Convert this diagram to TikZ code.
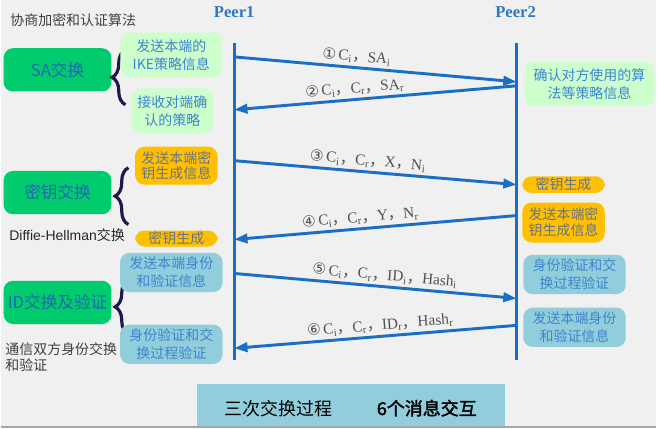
\documentclass[tikz,border=0pt]{standalone}
\usepackage{fontspec}
\setmainfont{Liberation Serif}
\newfontfamily\cjk[AutoFakeBold=2]{Noto Sans CJK SC}
\newfontfamily\arial{Liberation Sans}
\newfontfamily\dejavu{DejaVu Sans}
\usepackage{tikz}
\usetikzlibrary{arrows.meta,positioning,backgrounds,calc,decorations.pathreplacing}
\definecolor{bgray}{HTML}{F0F0F0}
\definecolor{lifeblue}{HTML}{1A6FC4}
\definecolor{peerblue}{HTML}{2E78C4}
\definecolor{phasegreen}{HTML}{00CC6E}
\definecolor{phasetext}{HTML}{2166B0}
\definecolor{palegreen}{HTML}{CCFFCC}
\definecolor{keyorange}{HTML}{FFC000}
\definecolor{idblue}{HTML}{92CDDC}
\definecolor{stepblue}{HTML}{3D85CC}
\definecolor{keytext}{HTML}{66728E}
\definecolor{bracenavy}{HTML}{1C1C4C}
\definecolor{msggray}{HTML}{505050}
\definecolor{notegray}{HTML}{404040}
\newcommand{\cma}{{\cjk ，}}
\newcommand{\sbs}[1]{\textsubscript{#1}}
\newcommand{\num}[1]{{\dejavu #1}\,}

\begin{document}
\begin{tikzpicture}[x=0.75pt,y=-0.75pt,
   phase/.style={fill=phasegreen, rounded corners=7pt, text=phasetext,
     font=\cjk\fontsize{12.5}{15}\selectfont, minimum width=81pt, minimum height=32.5pt, inner sep=1pt},
   stepbox/.style={rounded corners=7pt, align=center, inner sep=1pt, font=\cjk\fontsize{10.5}{13.5}\selectfont},
   sagreen/.style={stepbox, fill=palegreen, text=stepblue},
   keybox/.style={stepbox, fill=keyorange, text=keytext, font=\cjk\fontsize{10.5}{12}\selectfont, minimum width=62pt},
   idbox/.style={stepbox, fill=idblue, text=stepblue, minimum width=77pt, minimum height=29.5pt},
   peer/.style={text=peerblue, font=\bfseries\fontsize{12.5}{15}\selectfont},
   note/.style={text=notegray, font=\cjk\fontsize{10.5}{12}\selectfont},
   life/.style={lifeblue, line width=2.2pt},
   msg/.style={-{Triangle[length=10pt,width=7pt]}, lifeblue, line width=2.2pt},
   lbl/.style={sloped, above, text=msggray, font=\fontsize{11.5}{13}\selectfont, inner sep=2pt},
   curly/.style={decorate, decoration={brace, amplitude=10pt}, bracenavy, line width=2.4pt}]
  \fill[bgray] (0,0) rectangle (657,429);
  \draw[gray!70, line width=1pt] (0,428) -- (657,428);
  \useasboundingbox (0,0) rectangle (657,429);

  \node[note, anchor=west] (title) at (5,20) {协商加密和认证算法};
  \node[peer] (peer1) at (234,12) {Peer1};
  \node[peer] (peer2) at (516,12) {Peer2};

  % lifelines
  \coordinate (p1top) at (234,43);
  \coordinate (p1bot) at (234,361);
  \coordinate (p2top) at (517,43);
  \coordinate (p2bot) at (517,361);
  \draw[life] (p1top) -- (p1bot);
  \draw[life] (p2top) -- (p2bot);

  % SA
  \node[phase] (sa) at (57,70) {SA交换};
  \draw[curly] (125,105) -- (125,50);
  \node[sagreen, minimum width=76.5pt, minimum height=33.5pt] (sasend) at (171,55) {发送本端的\\IKE策略信息};
  \node[sagreen, minimum width=61pt, minimum height=33.5pt] (sarecv) at (172,111) {接收对端确\\认的策略};
  \node[sagreen, minimum width=97.5pt, minimum height=33pt] (saconf) at (590,84) {确认对方使用的算\\法等策略信息};

  % key exchange
  \node[phase] (kx) at (57,193) {密钥交换};
  \draw[curly] (128,225) -- (128,168);
  \node[keybox, minimum height=28.5pt] (kxsend) at (176,166) {发送本端密\\钥生成信息};
  \node[keybox, minimum height=12pt] (kxgen) at (176,239) {密钥生成};
  \node[keybox, minimum height=12.5pt] (kxgen2) at (564,185) {密钥生成};
  \node[keybox, minimum height=30pt] (kxsend2) at (564,223) {发送本端密\\钥生成信息};
  \node[anchor=west, text=black!85, font=\cjk\fontsize{10.5}{12}\selectfont] (dh) at (4,236) {{\arial Diffie-Hellman}交换};

  % ID
  \node[phase] (idx) at (57,303) {ID交换及验证};
  \draw[curly] (128,335) -- (128,280);
  \node[idbox] (idsend) at (171,273) {发送本端身份\\和验证信息};
  \node[idbox] (idver) at (171,345) {身份验证和交\\换过程验证};
  \node[idbox] (idver2) at (575,275) {身份验证和交\\换过程验证};
  \node[idbox] (idsend2) at (575,328) {发送本端身份\\和验证信息};
  \node[note, anchor=west, align=left] (idnote) at (0,358) {通信双方身份交换\\和验证};

  % messages
  \coordinate (m1s) at (234,57);  \coordinate (m1e) at (517,82);
  \coordinate (m2s) at (517,86);  \coordinate (m2e) at (234,110);
  \coordinate (m3s) at (234,161); \coordinate (m3e) at (517,185);
  \coordinate (m4s) at (517,216); \coordinate (m4e) at (234,240);
  \coordinate (m5s) at (234,274); \coordinate (m5e) at (517,299);
  \coordinate (m6s) at (517,326); \coordinate (m6e) at (234,349);
  \path (m1s) edge[msg] node[lbl, pos=.43] {\num{①}C\sbs{i}\cma SA\sbs{i}} (m1e);
  \path (m2s) edge[msg] node[lbl, pos=.57] {\num{②}C\sbs{i}\cma C\sbs{r}\cma SA\sbs{r}} (m2e);
  \path (m3s) edge[msg] node[lbl, pos=.47] {\num{③}C\sbs{i}\cma C\sbs{r}\cma X\cma N\sbs{i}} (m3e);
  \path (m4s) edge[msg] node[lbl, pos=.55] {\num{④}C\sbs{i}\cma C\sbs{r}\cma Y\cma N\sbs{r}} (m4e);
  \path (m5s) edge[msg] node[lbl, pos=.53] {\num{⑤}C\sbs{i}\cma C\sbs{r}\cma ID\sbs{i}\cma Hash\sbs{i}} (m5e);
  \path (m6s) edge[msg] node[lbl, pos=.48] {\num{⑥}C\sbs{i}\cma C\sbs{r}\cma ID\sbs{r}\cma Hash\sbs{r}} (m6e);

  % summary
  \node[fill=idblue, minimum width=231pt, minimum height=31.5pt, inner sep=0pt] (summary) at (351,406) {};
  \node[font=\cjk\fontsize{13.5}{16}\selectfont] (rounds) at (278,409) {三次交换过程};
  \node[font=\cjk\bfseries\fontsize{13.5}{16}\selectfont] (msgs) at (427,409) {6个消息交互};
\end{tikzpicture}
\end{document}
